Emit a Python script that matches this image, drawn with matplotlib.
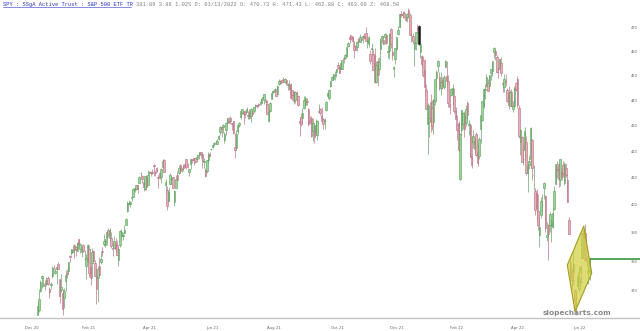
import matplotlib
matplotlib.use("Agg")
import matplotlib.pyplot as plt
from matplotlib.patches import Polygon
from matplotlib.lines import Line2D
from matplotlib.transforms import blended_transform_factory

# ---------------- data (daily SPY candles, Jan 5 2021 .. Jul 1 2022) ----------------
opens = [
    362.0, 363.6, 370.0, 374.5, 371.8, 372.8, 372.6, 374.5, 370.6, 372.2, 375.0, 378.4, 376.2, 377.6, 379.3, 374.1, 370.3, 369.5,
    367.6, 373.6, 376.3, 376.9, 382.1, 383.2, 383.5, 386.0, 385.1, 383.8, 387.9, 384.3, 383.5, 386.0, 381.0, 378.6, 380.2, 384.3, 378.3,
    379.5, 383.7, 379.7, 375.1, 374.4, 378.6, 379.8, 383.6, 386.1, 386.0, 388.2, 391.0, 388.4, 388.4, 384.7, 384.8, 386.7, 385.8, 380.8, 385.7, 389.2, 389.2, 390.1,
    393.0, 398.1, 400.4, 400.5, 402.7, 403.0, 405.5, 406.1, 407.4, 408.3, 411.9, 410.9, 408.5, 406.1, 410.5, 407.5, 412.0, 412.5, 412.4, 414.9, 412.2,
    413.9, 410.6, 411.9, 410.3, 414.4, 417.0, 407.6, 405.7, 401.6, 407.7, 409.9, 410.3, 401.4, 406.3, 411.4, 411.8, 414.8, 413.4, 414.7, 415.4,
    417.1, 414.9, 412.4, 415.3, 417.1, 417.6, 417.7, 417.4, 418.7, 418.9, 419.9, 419.1, 416.2, 413.0, 412.7, 416.8, 419.1, 421.0, 421.8, 423.1, 423.8, 423.1,
    424.7, 427.5, 429.6, 429.5, 424.6, 428.3, 431.2, 432.0, 433.2, 431.3, 431.8, 422.0, 421.5, 428.1, 430.5, 433.3, 435.1, 435.7, 435.5, 435.6, 433.7,
    435.9, 433.8, 435.4, 435.8, 437.7, 438.1, 438.6, 439.4, 439.2, 441.2, 440.1, 439.8, 438.6, 431.9, 435.8, 440.8, 443.6, 443.8, 444.2, 442.7, 446.6, 447.7,
    448.1, 448.8, 447.5, 448.2, 446.4, 446.2, 446.5, 444.1, 443.6, 440.1, 442.8, 441.9, 431.9, 433.5, 433.1, 436.9, 438.4, 439.8, 436.7, 432.2, 433.0,
    428.1, 430.1, 427.3, 426.4, 435.5, 436.6, 434.3, 432.8, 431.8, 436.2, 441.9, 441.1, 446.0, 448.2, 448.9, 450.2, 451.4, 454.3, 453.6, 452.6, 453.0,
    457.2, 457.2, 458.2, 462.3, 466.2, 466.6, 466.2, 462.5, 462.1, 462.0, 465.5, 464.1, 465.9, 466.1, 466.5, 467.8, 464.1, 463.0, 459.2, 461.0, 458.9,
    458.5, 447.6, 456.1, 453.0, 461.3, 465.6, 465.1, 466.1, 467.1, 460.0, 460.3, 469.5, 460.0, 453.0, 457.1, 461.3, 467.3, 470.6, 476.2, 475.5, 476.4, 474.1,
    474.8, 477.7, 475.7, 466.4, 466.4, 461.2, 463.7, 470.1, 470.7, 459.7, 458.2, 456.6, 452.3, 444.1, 430.6, 431.7, 439.3, 437.0, 431.4, 439.9,
    449.3, 454.1, 449.6, 445.0, 448.1, 445.3, 453.8, 449.9, 448.0, 438.5, 442.3, 442.5, 441.8, 435.9, 430.5, 431.3, 409.6, 428.2, 430.6,
    433.7, 431.1, 439.2, 430.5, 430.3, 418.3, 423.8, 421.2, 426.8, 419.6, 418.5, 428.6, 432.3, 438.0, 444.3, 445.9, 446.9, 445.9, 451.2, 452.1, 460.0, 460.3, 457.9,
    453.3, 453.1, 455.2, 446.9, 445.6, 448.0, 444.1, 443.1, 438.0, 443.6, 436.8, 437.9, 446.9, 448.5, 436.9, 423.7, 425.8, 417.2, 420.6, 423.6,
    412.1, 415.0, 417.1, 424.6, 411.1, 405.1, 404.5, 398.1, 389.4, 396.7, 400.0, 406.5, 403.5, 388.6, 392.8, 392.8, 392.6, 392.3, 398.7, 407.9, 413.6,
    415.2, 409.4, 412.4, 414.8, 408.1, 413.9, 409.3, 394.9, 379.9, 376.9, 376.5, 370.5, 365.5, 371.9, 370.6, 376.6, 381.4, 391.1, 390.2, 381.2, 376.2,
    376.6,
]
highs = [
    366.4, 370.9, 373.8, 375.4, 374.5, 373.8, 374.8, 375.0, 371.5, 373.1, 378.7, 378.9, 378.0, 378.7, 379.8, 374.2, 375.8, 370.6,
    371.2, 377.1, 377.6, 380.1, 382.4, 384.5, 385.8, 386.2, 385.6, 386.8, 388.1, 386.6, 385.4, 386.3, 384.0, 382.7, 386.1, 385.8, 379.5,
    384.8, 384.0, 380.7, 377.9, 378.7, 381.6, 383.8, 385.3, 389.6, 388.1, 390.6, 391.7, 392.0, 390.6, 386.4, 388.9, 388.3, 387.6, 385.4, 391.2, 391.6, 390.3, 392.8,
    395.3, 401.5, 401.8, 401.5, 403.2, 406.3, 406.5, 407.6, 407.6, 410.8, 412.5, 411.3, 409.7, 410.9, 411.4, 412.9, 412.8, 412.7, 413.6, 415.3, 413.1,
    414.3, 411.1, 412.1, 413.7, 417.3, 417.2, 409.8, 407.1, 406.9, 412.0, 410.9, 410.6, 405.6, 411.1, 412.7, 414.8, 415.2, 414.1, 415.2, 415.8,
    417.2, 415.7, 413.5, 417.4, 417.3, 417.7, 417.8, 419.1, 418.9, 419.9, 420.0, 419.4, 417.5, 413.7, 417.0, 419.9, 420.0, 421.5, 423.0, 423.6, 424.5, 424.7,
    426.4, 429.9, 429.8, 430.6, 427.5, 431.6, 433.2, 433.6, 433.7, 431.3, 431.9, 427.2, 428.2, 430.5, 431.5, 436.1, 436.8, 435.7, 436.1, 437.6, 435.9,
    436.5, 436.9, 436.7, 437.5, 438.5, 438.4, 439.0, 439.5, 440.9, 441.5, 442.7, 440.6, 440.2, 436.7, 439.3, 443.8, 444.1, 445.1, 444.5, 446.3, 448.7, 448.1,
    448.6, 449.6, 449.1, 448.3, 447.2, 448.1, 446.9, 444.4, 443.8, 443.9, 443.9, 442.4, 433.6, 434.9, 437.0, 441.9, 441.7, 441.1, 437.0, 434.0, 433.8,
    433.1, 431.1, 432.6, 432.2, 438.8, 437.0, 437.4, 433.2, 433.2, 439.8, 443.4, 444.7, 447.8, 449.8, 450.9, 451.8, 453.0, 455.6, 454.3, 455.5, 456.7,
    457.6, 459.1, 462.1, 463.9, 467.6, 467.1, 466.5, 464.3, 462.8, 464.3, 465.7, 467.4, 466.1, 466.9, 467.8, 470.4, 466.0, 466.5, 460.8, 463.5, 460.9,
    461.6, 456.0, 457.2, 457.7, 465.8, 466.9, 466.5, 467.8, 467.5, 462.6, 467.8, 469.8, 463.2, 453.9, 461.7, 466.3, 470.7, 475.8, 477.3, 477.1, 477.5, 475.4,
    476.4, 478.5, 476.5, 469.3, 467.7, 464.2, 468.4, 471.7, 471.4, 463.6, 458.5, 458.1, 457.1, 446.6, 438.9, 438.3, 442.6, 440.3, 440.3, 448.9,
    452.2, 456.7, 451.6, 451.4, 449.6, 450.5, 456.5, 456.3, 450.2, 442.1, 444.9, 446.7, 445.2, 437.3, 434.1, 431.9, 427.4, 436.4, 435.6,
    435.9, 438.4, 439.8, 432.1, 431.0, 425.9, 428.2, 425.1, 427.5, 423.3, 425.5, 434.4, 439.8, 444.9, 446.5, 450.6, 448.5, 450.5, 453.0, 455.5, 462.1, 461.2, 458.8,
    453.5, 456.9, 457.8, 447.6, 450.7, 450.6, 445.0, 445.8, 444.1, 444.7, 439.8, 445.8, 447.6, 450.0, 438.1, 428.7, 426.0, 422.9, 429.6, 425.9,
    415.9, 418.9, 429.7, 425.0, 414.8, 406.4, 406.1, 404.0, 395.8, 403.2, 404.0, 408.6, 403.8, 394.1, 393.2, 397.7, 395.2, 399.5, 407.0, 415.4, 416.5,
    416.2, 417.4, 414.0, 416.6, 416.2, 415.8, 411.7, 395.8, 381.8, 377.9, 383.9, 370.9, 369.4, 376.5, 378.7, 378.8, 390.1, 391.4, 393.2, 382.3, 380.7,
    381.7,
]
lows = [
    362.0, 363.0, 369.8, 371.0, 371.6, 370.3, 371.8, 372.0, 367.6, 370.7, 374.6, 377.2, 375.7, 372.4, 377.4, 365.9, 369.8, 362.2,
    364.3, 370.2, 374.4, 375.9, 380.0, 382.3, 383.3, 381.4, 382.0, 383.7, 385.4, 383.2, 381.6, 383.5, 380.8, 374.1, 379.2, 374.7, 372.1,
    374.5, 379.9, 375.2, 365.8, 366.5, 375.3, 379.2, 382.1, 385.6, 385.1, 385.9, 388.6, 387.2, 384.7, 382.0, 384.8, 383.5, 382.3, 378.7, 385.1, 387.6, 387.8, 390.1,
    392.8, 397.6, 400.0, 399.6, 401.5, 402.9, 404.8, 405.8, 404.6, 408.3, 410.3, 408.4, 405.2, 405.6, 405.6, 407.4, 411.4, 410.9, 411.5, 410.9, 410.9,
    412.2, 406.2, 409.7, 408.1, 413.7, 412.3, 404.6, 398.5, 401.5, 407.7, 407.9, 406.3, 399.8, 406.2, 408.9, 411.6, 412.1, 412.3, 412.6, 413.8,
    413.4, 413.8, 410.8, 413.3, 415.7, 414.8, 415.9, 416.1, 417.3, 417.3, 417.6, 413.8, 413.8, 410.6, 411.8, 415.6, 418.3, 420.5, 421.5, 422.1, 423.1, 423.1,
    424.6, 426.3, 425.8, 427.3, 423.3, 426.5, 430.7, 431.1, 430.7, 428.5, 426.7, 417.8, 420.6, 426.8, 429.5, 432.6, 434.8, 430.8, 433.1, 435.6, 432.7,
    432.8, 431.7, 434.3, 435.1, 436.7, 436.9, 437.5, 438.2, 438.3, 440.7, 438.5, 436.5, 434.5, 431.7, 435.3, 440.7, 443.0, 443.4, 441.8, 442.7, 446.3, 446.5,
    447.2, 447.4, 447.1, 446.2, 444.4, 444.2, 440.8, 440.3, 438.7, 438.9, 439.5, 438.0, 425.9, 430.1, 430.7, 436.6, 438.2, 438.2, 429.9, 430.8, 425.8,
    424.3, 423.5, 426.5, 424.6, 435.3, 434.3, 431.4, 428.6, 428.6, 435.7, 441.2, 440.4, 445.4, 448.1, 448.4, 448.1, 449.5, 452.7, 451.0, 452.6, 452.7,
    455.1, 457.0, 457.7, 461.9, 463.8, 465.1, 462.5, 457.5, 460.8, 460.3, 463.1, 464.0, 464.4, 463.7, 465.4, 464.3, 461.4, 462.1, 454.7, 458.6, 452.2,
    447.2, 447.2, 445.8, 450.5, 455.6, 463.7, 463.0, 463.4, 463.2, 457.2, 456.8, 461.5, 456.6, 449.6, 454.8, 461.1, 467.1, 470.5, 474.6, 474.4, 474.2, 473.2,
    472.4, 474.1, 466.8, 463.9, 463.2, 454.0, 460.7, 467.4, 462.9, 457.5, 453.8, 449.5, 443.0, 436.5, 419.3, 425.8, 427.5, 428.2, 426.7, 438.4,
    445.5, 451.7, 444.3, 442.4, 444.5, 444.5, 453.6, 445.8, 437.5, 434.8, 441.7, 438.3, 435.0, 430.4, 424.5, 419.9, 409.2, 426.5, 428.9,
    425.8, 430.1, 432.5, 426.6, 418.1, 413.8, 421.5, 419.1, 418.2, 414.5, 417.1, 423.5, 431.9, 437.2, 440.7, 445.5, 443.7, 444.8, 448.4, 450.1, 457.2, 456.5, 451.2,
    449.1, 452.3, 449.8, 443.5, 443.5, 445.9, 439.4, 436.7, 437.8, 437.7, 435.6, 437.7, 443.7, 437.1, 425.4, 418.8, 416.1, 415.0, 417.6, 411.2,
    405.0, 413.4, 413.7, 409.4, 405.7, 396.5, 394.8, 391.3, 385.2, 395.6, 397.6, 402.5, 390.6, 387.1, 380.5, 390.4, 387.0, 391.9, 398.5, 407.7, 410.0,
    406.9, 407.0, 409.5, 410.6, 407.6, 410.4, 401.4, 389.8, 373.3, 370.6, 372.1, 364.1, 362.2, 371.8, 370.2, 372.9, 381.4, 387.4, 380.4, 378.4, 372.6,
    373.8,
]
closes = [
    365.2, 367.5, 373.0, 375.2, 372.6, 372.7, 373.7, 372.4, 369.6, 372.6, 377.8, 378.1, 376.8, 378.3, 377.7, 368.3, 371.5, 364.0,
    370.1, 375.5, 375.8, 380.1, 381.6, 384.4, 384.2, 384.0, 384.6, 386.5, 386.2, 386.3, 384.6, 383.9, 380.9, 381.4, 385.7, 376.2, 374.3,
    383.5, 380.4, 375.3, 370.6, 377.5, 375.6, 381.1, 383.5, 387.4, 388.0, 390.3, 389.8, 391.2, 385.4, 384.3, 387.4, 384.3, 382.3, 384.5, 390.8, 390.6, 389.5, 391.1,
    395.2, 401.0, 400.7, 401.2, 403.1, 406.1, 406.2, 407.5, 406.1, 410.5, 411.9, 409.8, 406.8, 410.7, 406.9, 411.3, 412.2, 412.1, 412.0, 414.7, 411.9,
    412.7, 410.1, 410.3, 413.6, 416.6, 412.4, 408.7, 399.9, 404.8, 411.1, 410.0, 406.4, 405.4, 409.8, 409.4, 413.7, 412.7, 413.6, 413.8, 414.5,
    414.2, 414.8, 413.3, 417.1, 416.7, 416.8, 416.2, 418.1, 418.8, 419.8, 419.0, 416.6, 416.5, 410.8, 416.8, 419.0, 418.5, 421.0, 422.5, 423.4, 423.6, 424.0,
    426.2, 429.5, 428.7, 430.3, 426.7, 431.3, 432.9, 431.4, 432.0, 430.6, 427.1, 420.8, 426.9, 430.4, 431.3, 435.7, 436.8, 434.8, 434.6, 436.5, 434.3,
    433.2, 436.8, 434.6, 437.4, 438.1, 437.7, 438.3, 439.4, 440.7, 441.5, 442.6, 439.6, 434.8, 435.6, 439.0, 442.9, 443.6, 444.5, 441.9, 445.9, 447.8, 447.2,
    447.3, 448.7, 448.6, 447.0, 446.4, 444.5, 440.9, 442.1, 439.7, 443.4, 442.7, 438.4, 431.0, 430.6, 434.9, 440.2, 440.9, 439.6, 430.7, 431.4, 426.1,
    431.3, 425.7, 430.2, 432.0, 435.8, 435.0, 431.8, 430.7, 432.3, 439.6, 443.0, 444.3, 447.7, 449.5, 450.7, 450.2, 452.7, 453.1, 451.0, 455.4, 456.4,
    456.9, 458.8, 461.9, 463.8, 465.4, 465.8, 464.3, 460.5, 460.7, 464.2, 464.3, 466.2, 465.0, 466.6, 465.8, 464.5, 465.1, 466.3, 455.9, 461.5, 452.5,
    447.4, 454.3, 450.3, 455.7, 465.2, 466.4, 463.3, 467.6, 463.5, 460.3, 467.5, 463.3, 458.4, 453.5, 461.6, 466.2, 469.1, 475.8, 475.4, 476.0, 474.7, 473.5,
    476.2, 476.1, 466.9, 466.4, 464.6, 464.0, 468.3, 469.5, 463.1, 463.2, 455.0, 450.3, 445.3, 436.5, 438.3, 433.1, 432.0, 429.9, 440.6, 448.5,
    451.6, 456.0, 445.2, 447.3, 445.9, 449.5, 456.1, 447.9, 439.1, 437.6, 444.7, 445.2, 435.7, 432.8, 428.2, 420.6, 426.9, 436.4, 435.2,
    428.7, 436.6, 434.4, 430.9, 418.1, 415.0, 426.1, 424.2, 418.8, 415.7, 424.9, 434.3, 439.8, 444.5, 444.4, 449.6, 443.8, 450.5, 452.7, 455.9, 461.6, 458.7, 451.6,
    452.9, 456.8, 451.0, 446.5, 448.8, 447.6, 439.9, 438.3, 443.3, 437.8, 438.0, 445.0, 444.7, 438.1, 426.0, 428.5, 416.1, 417.3, 427.8, 412.0,
    414.5, 416.4, 429.1, 413.8, 411.3, 398.2, 399.1, 392.8, 392.3, 401.7, 400.1, 408.3, 391.9, 389.5, 389.6, 396.9, 393.9, 397.4, 405.3, 415.3, 412.9,
    409.6, 417.4, 410.5, 411.8, 415.3, 411.2, 401.4, 389.8, 375.0, 373.9, 379.2, 366.7, 365.9, 375.1, 374.4, 378.1, 390.1, 388.6, 380.7, 380.3, 377.3,
    381.2,
]

highlight_index = 259          # candle drawn black (01/13/2022, shown in the header)
last_price_line = 380.9        # green horizontal price line
line_start_index = 375.0
diamond_x = [371.1, 376.5, 365.2, 359.9]
diamond_y = [392.6, 376.1, 363.2, 378.9]

x_tick_pos = [-3.9, 35.0, 76.4, 118.5, 160.7, 203.5, 244.2, 285.0, 326.4, 367.9]
x_tick_labels = ["Dec 20", "Feb 21", "Apr 21", "Jun 21", "Aug 21", "Oct 21",
                 "Dec 21", "Feb 22", "Apr 22", "Jun 22"]
y_tick_values = [470, 460, 450, 440, 430, 420, 410, 400, 390, 380, 370]

header_title = "SPY : SSgA Active Trust : S&P 500 ETF TR"
header_info = "381.89 3.86 1.02% D: 01/13/2022 O: 470.73 H: 471.43 L: 462.88 C: 463.09 Z: 468.50"

# ---------------- figure ----------------
W, H = 640, 331
fig = plt.figure(figsize=(W / 100, H / 100), dpi=100)
fig.patch.set_facecolor("white")
ax = fig.add_axes([0, 13 / H, 1, 318 / H])
ax.set_facecolor("white")
ax.set_yscale("log")
ax.set_ylim(361.1, 482.1)
ax.set_xlim(-25.5, 409.3)

n = len(closes)
xs = list(range(n))
up_face, up_edge = "#9ad69a", "#5a9a5a"
dn_face, dn_edge = "#e6b0b8", "#b46a7a"

wick_cols, face_cols, edge_cols, bottoms, heights = [], [], [], [], []
for i in range(n):
    o, c = opens[i], closes[i]
    if i == highlight_index:
        fc, ec = "#222222", "#111111"
    elif c >= o:
        fc, ec = up_face, up_edge
    else:
        fc, ec = dn_face, dn_edge
    face_cols.append(fc)
    edge_cols.append(ec)
    wick_cols.append(ec)
    bottoms.append(min(o, c))
    heights.append(max(abs(c - o), 0.15))

ax.vlines(xs, lows, highs, colors=wick_cols, linewidths=0.45, zorder=2)
ax.bar(xs, heights, bottom=bottoms, width=1.0, color=face_cols,
       edgecolor=edge_cols, linewidth=0.4, zorder=3)

# diamond annotation and price line
diamond = Polygon(list(zip(diamond_x, diamond_y)), closed=True,
                  facecolor=(0.83, 0.81, 0.25, 0.72), edgecolor=(0.62, 0.62, 0.12),
                  linewidth=0.8, zorder=5)
ax.add_patch(diamond)
ax.plot([line_start_index, 409.3], [last_price_line, last_price_line],
        color="#44a044", linewidth=1.3, zorder=6, solid_capstyle="butt")

# axes styling
for s in ("top", "left", "right"):
    ax.spines[s].set_visible(False)
ax.spines["bottom"].set_color("#c4c4c4")
ax.spines["bottom"].set_linewidth(1.0)
ax.set_yticks([])
ax.yaxis.set_minor_locator(matplotlib.ticker.NullLocator())
ax.set_xticks(x_tick_pos)
ax.set_xticklabels(x_tick_labels, fontsize=2.8, color="#666666")
ax.tick_params(axis="x", length=0, pad=5.5)

# right-hand price labels
trans = blended_transform_factory(ax.transAxes, ax.transData)
for v in y_tick_values:
    ax.text(634 / W, v, str(v), transform=trans, fontsize=2.6, color="#666666",
            ha="center", va="center", zorder=7)

# watermark
fig.text(577 / W, 1 - 312.5 / H, "slopecharts.com", fontsize=5.3, color="#8a8a8a",
         fontweight="bold", ha="center", va="center", zorder=10)

# header
mono = ["Liberation Mono", "DejaVu Sans Mono"]
fig.text(3 / W, 1 - 4.5 / H, header_title, family=mono, fontsize=3.85,
         color="#2a35c0", ha="left", va="center")
fig.add_artist(Line2D([3 / W, 131 / W], [1 - 7.2 / H, 1 - 7.2 / H],
                      color="#2a35c0", linewidth=0.4))
fig.text(136 / W, 1 - 4.5 / H, header_info, family=mono, fontsize=3.85,
         color="#808080", ha="left", va="center")

fig.savefig("out.png", dpi=100, facecolor="white")
